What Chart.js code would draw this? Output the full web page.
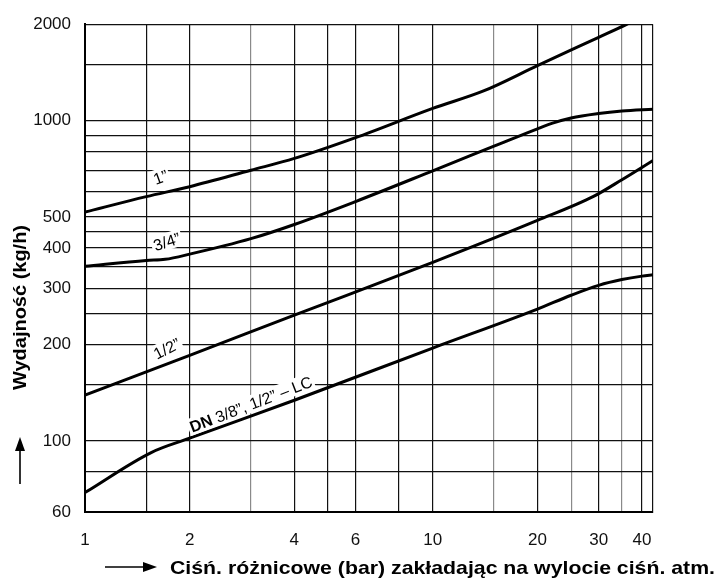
<!DOCTYPE html>
<html>
<head>
<meta charset="utf-8">
<script src="https://cdn.jsdelivr.net/npm/chart.js@4/dist/chart.umd.min.js"></script>
<style>
  body { margin: 0; background: #fff; }
  canvas { display: block; }
</style>
</head>
<body>
<canvas id="chart" width="717" height="578"></canvas>
<script>
// pressure (bar) and capacity (kg/h), one pair per curve
const p1 = [1, 1.5, 2, 3, 4, 6, 10, 14, 20, 30, 36, 42];
const cap1 = [518, 579, 622, 700, 762, 885, 1092, 1238, 1485, 1820, 1995, 2166];

const p34 = [1, 1.5, 1.7, 2, 3, 4, 6, 10, 15, 20, 22, 25, 30, 35, 43];
const cap34 = [351, 366, 369, 383, 428, 474, 559, 697, 832, 943, 980, 1019, 1052, 1071, 1086];

const p12 = [1, 2, 4, 10, 20, 29, 35, 43];
const cap12 = [139, 185, 247, 361, 488, 580, 654, 751];

const pDN = [1, 1.55, 2, 4, 10, 20, 25, 30, 35, 40, 43];
const capDN = [69, 92, 102, 134, 195, 258, 285, 306, 319, 327, 330];

// grid lines and which of them carry a label
const xGrid = [1, 1.5, 2, 3, 4, 5, 6, 8, 10, 15, 20, 25, 30, 35, 40, 43];
const xLabels = [1, 2, 4, 6, 10, 20, 30, 40];
const yGrid = [60, 80, 100, 150, 200, 250, 300, 350, 400, 450, 500, 600, 700, 800, 900, 1000, 1500, 2000];
const yLabels = [60, 100, 200, 300, 400, 500, 1000, 2000];
const grayX = [3, 15, 25, 35];

// curve captions: text pieces (weight, text), anchor in data units, angle
const captions = [
  { parts: [["", "1\u201d"]], x: 1.65, y: 665, angle: -20 },
  { parts: [["", "3/4\u201d"]], x: 1.72, y: 418, angle: -18 },
  { parts: [["", "1/2\u201d"]], x: 1.72, y: 194, angle: -27 },
  { parts: [["bold ", "DN "], ["", "3/8\u201d, 1/2\u201d \u2013 LC"]], x: 3.0, y: 130, angle: -21 },
];

const FONT = "'Liberation Sans', Arial, sans-serif";

const curves = [[p1, cap1], [p34, cap34], [p12, cap12], [pDN, capDN]];
const series = curves.map(([ps, vals]) => ({
  data: vals.map((v, i) => ({ x: ps[i], y: v })),
  borderColor: "#000",
  borderWidth: 3,
  pointRadius: 0,
  cubicInterpolationMode: "monotone",
  clip: 0,
}));

// draw text squeezed/stretched to a given length
function fitText(ctx, text, x, y, len) {
  const w = ctx.measureText(text).width;
  ctx.save();
  ctx.translate(x, y);
  ctx.scale(len / w, 1);
  ctx.fillText(text, 0, 0);
  ctx.restore();
}

const extras = {
  id: "extras",
  afterDraw(chart) {
    const ctx = chart.ctx;
    const xs = chart.scales.x, ys = chart.scales.y;
    ctx.save();
    ctx.fillStyle = "#000";
    ctx.strokeStyle = "#000";

    // captions along the curves, on a white patch
    ctx.textBaseline = "middle";
    captions.forEach((c) => {
      const px = xs.getPixelForValue(c.x), py = ys.getPixelForValue(c.y);
      ctx.save();
      ctx.translate(px, py);
      ctx.rotate((c.angle * Math.PI) / 180);
      let w = 0;
      c.parts.forEach(([wt, t]) => {
        ctx.font = wt + "16px " + FONT;
        w += ctx.measureText(t).width;
      });
      ctx.fillStyle = "#fff";
      ctx.fillRect(-w / 2 - 2, -9, w + 4, 17);
      ctx.fillStyle = "#000";
      let cx = -w / 2;
      ctx.textAlign = "left";
      c.parts.forEach(([wt, t]) => {
        ctx.font = wt + "16px " + FONT;
        ctx.fillText(t, cx, 1);
        cx += ctx.measureText(t).width;
      });
      ctx.restore();
    });

    // x title with arrow
    ctx.font = "bold 19px " + FONT;
    ctx.textAlign = "left";
    ctx.textBaseline = "alphabetic";
    fitText(ctx, "Ciśń. różnicowe (bar) zakładając na wylocie ciśń. atm.", 170, 574, 545);
    ctx.lineWidth = 1.6;
    ctx.beginPath();
    ctx.moveTo(105, 567);
    ctx.lineTo(146, 567);
    ctx.stroke();
    ctx.beginPath();
    ctx.moveTo(157, 567);
    ctx.lineTo(143, 562);
    ctx.lineTo(143, 572);
    ctx.closePath();
    ctx.fill();

    // y title with arrow
    ctx.save();
    ctx.translate(26, 390);
    ctx.rotate(-Math.PI / 2);
    fitText(ctx, "Wydajność (kg/h)", 0, 0, 165);
    ctx.restore();
    ctx.beginPath();
    ctx.moveTo(20, 484);
    ctx.lineTo(20, 448);
    ctx.stroke();
    ctx.beginPath();
    ctx.moveTo(20, 437);
    ctx.lineTo(15, 451);
    ctx.lineTo(25, 451);
    ctx.closePath();
    ctx.fill();

    ctx.restore();
  },
};

new Chart(document.getElementById("chart"), {
  type: "line",
  data: { datasets: series },
  options: {
    responsive: false,
    animation: false,
    layout: { padding: { top: 18, right: 64, left: 0, bottom: 0 } },
    plugins: { legend: { display: false }, tooltip: { enabled: false } },
    scales: {
      x: {
        type: "logarithmic",
        min: 1,
        max: 43,
        afterBuildTicks: (s) => { s.ticks = xGrid.map((v) => ({ value: v })); },
        afterFit: (s) => { s.height = 66; },
        grid: {
          drawTicks: false,
          lineWidth: 1.2,
          color: (c) => (c.tick && grayX.includes(c.tick.value) ? "#8a8a8a" : "#111"),
        },
        border: { color: "#000", width: 2 },
        ticks: {
          autoSkip: false,
          maxRotation: 0,
          padding: 18,
          color: "#111",
          font: { family: FONT, size: 17 },
          callback: (v) => (xLabels.includes(v) ? String(v) : ""),
        },
      },
      y: {
        type: "logarithmic",
        min: 60,
        max: 2000,
        afterBuildTicks: (s) => { s.ticks = yGrid.map((v) => ({ value: v })); },
        afterFit: (s) => { s.width = 85; },
        grid: { drawTicks: false, lineWidth: 1.2, color: "#111" },
        border: { color: "#000", width: 2 },
        ticks: {
          autoSkip: false,
          padding: 14,
          color: "#111",
          font: { family: FONT, size: 17 },
          callback: (v) => (yLabels.includes(v) ? String(v) : ""),
        },
      },
    },
  },
  plugins: [extras],
});
</script>
</body>
</html>
